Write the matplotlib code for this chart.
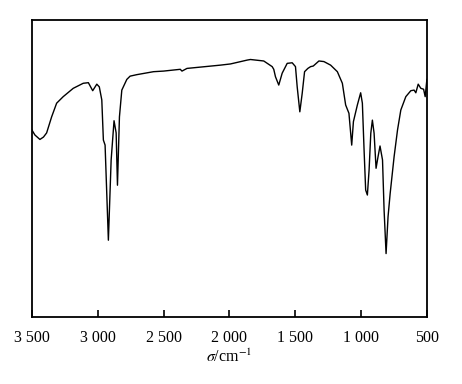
import matplotlib
matplotlib.use("Agg")
import matplotlib.pyplot as plt
from matplotlib.ticker import FuncFormatter

plt.rcParams["font.family"] = ["Liberation Serif", "DejaVu Serif"]
plt.rcParams["mathtext.fontset"] = "stix"

# IR spectrum (wavenumber in cm-1, transmittance in arbitrary %)
wavenumber = [
    3500, 3477, 3439, 3412, 3388, 3350, 3312, 3262, 3186, 3110, 3071, 3038,
    3007, 2988, 2969, 2957, 2944, 2919, 2898, 2876, 2860, 2850, 2835, 2817,
    2779, 2754, 2703, 2576, 2500, 2373, 2360, 2322, 2069, 1992, 1865, 1840,
    1739, 1675, 1663, 1650, 1625, 1599, 1561, 1523, 1498, 1485, 1465, 1447,
    1429, 1404, 1383, 1363, 1320, 1282, 1231, 1180, 1142, 1117, 1092, 1071,
    1058, 1028, 1003, 990, 977, 965, 952, 939, 926, 914, 901, 886,
    871, 856, 837, 825, 810, 795, 779, 749, 723, 698, 660, 622,
    597, 584, 566, 546, 525, 513, 500,
]
transmittance = [
    63.0, 61.3, 59.8, 60.6, 62.0, 67.4, 72.0, 74.2, 77.0, 78.7, 78.9, 76.2,
    78.4, 77.5, 73.1, 59.6, 57.9, 25.9, 52.9, 66.1, 62.0, 44.4, 67.4, 76.4,
    80.0, 81.1, 81.6, 82.6, 82.8, 83.4, 82.8, 83.7, 84.8, 85.2, 86.5, 86.7,
    86.2, 84.3, 83.4, 80.9, 78.1, 82.1, 85.4, 85.6, 84.3, 77.5, 69.1, 75.3,
    82.6, 83.7, 84.3, 84.5, 86.2, 86.0, 84.8, 82.6, 78.7, 71.4, 68.6, 57.9,
    65.8, 71.4, 75.5, 72.0, 56.2, 42.8, 41.1, 49.5, 61.9, 66.3, 61.9, 50.1,
    54.0, 57.6, 52.9, 36.0, 21.4, 33.8, 41.6, 54.0, 63.0, 69.7, 74.2, 76.2,
    76.4, 75.5, 78.4, 77.0, 76.7, 74.2, 80.0,
]
xticks = [3500, 3000, 2500, 2000, 1500, 1000, 500]


def space_thousands(v, pos):
    return f"{int(v):,}".replace(",", " ")


fig = plt.figure(figsize=(4.62, 3.84), dpi=100)
ax = fig.add_axes([0.069, 0.174, 0.855, 0.774])

ax.plot(wavenumber, transmittance, color="black", lw=1.0)

ax.set_xlim(3500, 500)
ax.set_ylim(0, 100)
ax.set_xticks(xticks)
ax.xaxis.set_major_formatter(FuncFormatter(space_thousands))
ax.set_yticks([])
ax.tick_params(axis="x", direction="in", length=5, width=1.2, pad=9,
               labelsize=11.5, top=False)
for sp in ax.spines.values():
    sp.set_linewidth(1.3)

ax.set_xlabel(r"$\sigma$/cm$^{-1}$", fontsize=11.5, labelpad=2)

fig.savefig("out.png", dpi=100)
